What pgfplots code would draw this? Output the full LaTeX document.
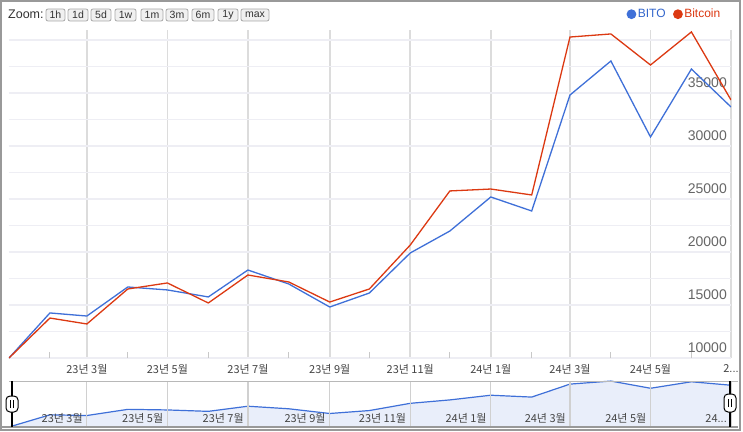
\documentclass[border=0pt]{standalone}
\usepackage{pgfplots}
\usepackage{pgfplotstable}
\pgfplotsset{compat=1.18}
\usepackage{fontspec}
\setmainfont{Liberation Sans}
\newfontfamily\kr{Noto Sans CJK KR}
\definecolor{bito}{HTML}{3F70D8}
\definecolor{bitoleg}{HTML}{3366CC}
\definecolor{btc}{HTML}{DC3912}
\definecolor{vgrid}{HTML}{DCDCDC}
\definecolor{hgrid}{HTML}{EEEEF4}
\definecolor{tickgray}{HTML}{C8C8C8}
\definecolor{ylab}{HTML}{666666}
\definecolor{xlab}{HTML}{444444}
\definecolor{navfill}{HTML}{E9EEFA}
\definecolor{navgrid}{HTML}{D0D0D0}
\definecolor{frame}{HTML}{999999}
\definecolor{btnfill}{HTML}{F0F0F0}
\definecolor{btnline}{HTML}{A8A8A8}

\pgfplotstableread{
day bito btc
0 10000 10000
31 14250 13770
59 13960 13210
90 16700 16510
120 16420 17080
151 15760 15190
181 18300 17830
212 16980 17170
243 14810 15280
273 16130 16510
304 19910 20660
334 21980 25760
365 25190 25940
396 23870 25380
425 34810 40280
456 38020 40570
486 30850 37640
517 37260 40760
547 33680 34340
}\datatable

\begin{document}
\begin{tikzpicture}
\useasboundingbox (0pt,0pt) rectangle (743pt,431pt);
\fill[white] (0pt,0pt) rectangle (743pt,431pt);

% main chart
\begin{axis}[
  at={(9pt,73pt)}, anchor=south west,
  scale only axis, width=722pt, height=328pt,
  xmin=0, xmax=547, ymin=10000, ymax=40943,
  scaled y ticks=false,
  axis line style={draw=none},
  xtick={59,120,181,243,304,365,425,486,547},
  xticklabels={23년 3월,23년 5월,23년 7월,23년 9월,23년 11월,24년 1월,24년 3월,24년 5월,{2{\rmfamily ...}}},
  minor xtick={31,90,151,212,273,334,396,456,517},
  ytick={10000,12500,15000,17500,20000,22500,25000,27500,30000,32500,35000,37500,40000},
  yticklabels={10000,{},15000,{},20000,{},25000,{},30000,{},35000,{},{}},
  xtick pos=bottom, ytick pos=right, yticklabel pos=right,
  tick align=inside,
  major tick length=0pt, minor tick length=6pt,
  minor x tick style={color=tickgray, line width=1pt},
  grid=major,
  x grid style={color=vgrid, line width=1.6pt},
  y grid style={color=hgrid, line width=1.4pt},
  xticklabel style={font=\kr\fontsize{11}{13}\selectfont, text=xlab, anchor=north, inner sep=0pt, yshift=-6pt},
  yticklabel style={font=\fontsize{14}{16}\selectfont, text=ylab, anchor=south east, inner sep=0pt, xshift=-4pt, yshift=5pt},
  legend columns=2,
  legend style={at={(1,1)}, anchor=south east, xshift=-9pt, yshift=9pt, draw=none, fill=none,
    font=\fontsize{12}{14}\selectfont, inner sep=0pt,
    nodes={inner sep=1.5pt},
    /tikz/every even column/.append style={column sep=6pt}},
  legend image code/.code={\fill[#1] (4pt,0pt) circle (4.2pt);},
]
\addplot[bito, line width=1.3pt] table[x=day,y=bito]{\datatable};
\addlegendentry{\textcolor{bitoleg}{BITO}}
\addplot[btc, line width=1.3pt] table[x=day,y=btc]{\datatable};
\addlegendentry{\textcolor{btc}{Bitcoin}}
\end{axis}

% navigator
\begin{axis}[
  at={(9pt,4pt)}, anchor=south west,
  scale only axis, width=722pt, height=46pt,
  xmin=0, xmax=547, ymode=log, ymin=10000, ymax=38100,
  axis on top,
  axis line style={draw=none},
  xtick={59,120,181,243,304,365,425,486,547},
  xticklabels={23년 3월,23년 5월,23년 7월,23년 9월,23년 11월,24년 1월,24년 3월,24년 5월,{24{\rmfamily ...}}},
  ytick=\empty,
  xtick pos=bottom, major tick length=0pt,
  grid=major,
  x grid style={color=navgrid, line width=1.2pt},
  xticklabel style={font=\kr\fontsize{11}{13}\selectfont, text=xlab, anchor=base east, inner sep=0pt, xshift=-4pt, yshift=4pt},
]
\addplot[draw=none, fill=navfill] table[x=day,y=bito]{\datatable} \closedcycle;
\addplot[bito, line width=1.2pt] table[x=day,y=bito]{\datatable};
\end{axis}

% navigator frame lines
\draw[color=frame!70, line width=1pt] (9pt,50pt) -- (738pt,50pt);
\draw[color=frame, line width=1.5pt] (2pt,4pt) -- (738pt,4pt);
% handles
\draw[black, line width=1.5pt] (12pt,4pt) -- (12pt,50pt);
\draw[black, line width=1pt, fill=white, rounded corners=4pt] (6pt,19pt) rectangle (18pt,35pt);
\draw[black, line width=0.8pt] (10.8pt,23pt) -- (10.8pt,31pt) (13.2pt,23pt) -- (13.2pt,31pt);
\draw[black, line width=1.5pt] (730pt,4pt) -- (730pt,50pt);
\draw[black, line width=1pt, fill=white, rounded corners=4pt] (724pt,19pt) rectangle (736pt,37pt);
\draw[black, line width=0.8pt] (728.8pt,24pt) -- (728.8pt,32pt) (731.2pt,24pt) -- (731.2pt,32pt);

% zoom bar
\node[anchor=west, inner sep=0pt, text=black!80, font=\fontsize{12.5}{14}\selectfont] at (8pt,417pt) {Zoom:};
\foreach \c/\w/\t in {55.5/19/1h, 78/20/1d, 101/20/5d, 125.5/21/1w, 152/22/1m, 177/22/3m, 203/22/6m, 228/20/1y, 255/28/max}{
  \node[draw=btnline, fill=btnfill, rounded corners=2pt, line width=0.8pt, minimum width=\w pt, minimum height=12pt, inner sep=0pt,
        font=\fontsize{10.5}{11}\selectfont, text=black!80] at (\c pt,416pt) {\t};
}

% outer frame
\draw[color=frame, line width=2pt] (1pt,1pt) rectangle (739.5pt,430pt);
\end{tikzpicture}
\end{document}
